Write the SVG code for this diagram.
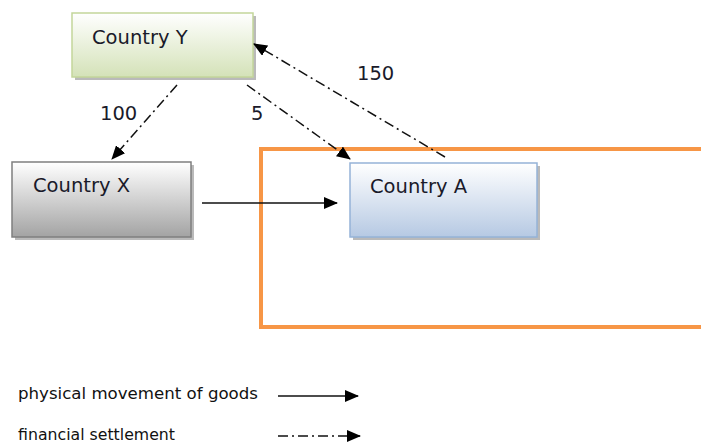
<svg xmlns="http://www.w3.org/2000/svg" width="701" height="443" viewBox="0 0 701 443">
<style>
.lbl{font-family:"DejaVu Sans","Liberation Sans",sans-serif;font-size:19.5px;fill:#1a1a2a}
.leg{font-family:"DejaVu Sans","Liberation Sans",sans-serif;font-size:15px;fill:#111}
.fin{fill:none;stroke:#111;stroke-width:1.5;stroke-dasharray:10 4 2 4}
.phy{fill:none;stroke:#111;stroke-width:1.5}
.shadow{fill:#8c8c8c;opacity:0.6}
</style>
<defs>
<linearGradient id="gY" x1="0" y1="0" x2="0" y2="1"><stop offset="0" stop-color="#ffffff"/><stop offset="1" stop-color="#d4e2b8"/></linearGradient>
<linearGradient id="gX" x1="0" y1="0" x2="0" y2="1"><stop offset="0" stop-color="#ffffff"/><stop offset="1" stop-color="#a3a3a3"/></linearGradient>
<linearGradient id="gA" x1="0" y1="0" x2="0" y2="1"><stop offset="0" stop-color="#ffffff"/><stop offset="1" stop-color="#b6c9e3"/></linearGradient>
<marker id="ah" markerWidth="14" markerHeight="12" refX="13" refY="6" orient="auto" markerUnits="userSpaceOnUse"><path d="M0,0 L14,6 L0,12 Z" fill="#000"/></marker>
</defs>
<rect id="frame" x="261" y="149" width="450" height="178" fill="none" stroke="#f79646" stroke-width="4"/>
<g id="countryY">
<rect class="shadow" x="75" y="16" width="181" height="64"/>
<rect x="72" y="13" width="181" height="64" fill="url(#gY)" stroke="#c3d69b" stroke-width="1.5"/>
<text class="lbl" x="92" y="44">Country Y</text>
</g>
<g id="countryX">
<rect class="shadow" x="15" y="165" width="179" height="75"/>
<rect x="12" y="162" width="179" height="75" fill="url(#gX)" stroke="#7f7f7f" stroke-width="1.5"/>
<text class="lbl" x="33" y="192">Country X</text>
</g>
<g id="countryA">
<rect class="shadow" x="353" y="166" width="187" height="74"/>
<rect x="350" y="163" width="187" height="74" fill="url(#gA)" stroke="#95b3d7" stroke-width="1.5"/>
<text class="lbl" x="370" y="193">Country A</text>
</g>
<g id="connectors">
<line class="fin" x1="177" y1="85" x2="112" y2="159" marker-end="url(#ah)"/>
<line class="fin" x1="247" y1="85" x2="350" y2="159" marker-end="url(#ah)"/>
<line class="fin" x1="445" y1="157" x2="254" y2="44" marker-end="url(#ah)"/>
<line class="phy" x1="202" y1="203" x2="337" y2="203" marker-end="url(#ah)"/>
<text class="lbl" x="100" y="120">100</text>
<text class="lbl" x="251" y="120">5</text>
<text class="lbl" x="357" y="80">150</text>
</g>
<g id="legend">
<text class="leg" x="18" y="399" textLength="240" lengthAdjust="spacingAndGlyphs">physical movement of goods</text>
<line class="phy" x1="278" y1="396" x2="358" y2="396" marker-end="url(#ah)"/>
<text class="leg" x="18" y="440" textLength="157" lengthAdjust="spacingAndGlyphs">financial settlement</text>
<line class="fin" x1="278" y1="436" x2="360" y2="436" marker-end="url(#ah)"/>
</g>
</svg>
